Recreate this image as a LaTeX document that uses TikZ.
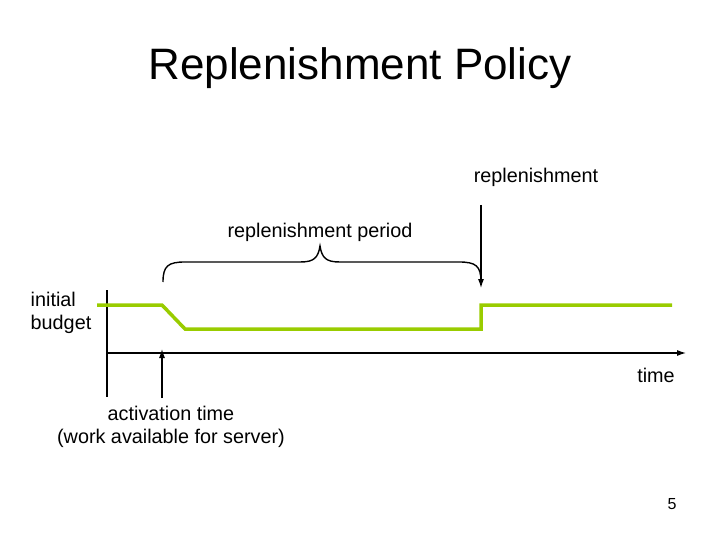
\documentclass[tikz,border=0pt]{standalone}
\usepackage{fontspec}
\setmainfont{Liberation Sans}
\definecolor{budget}{RGB}{153,204,0}
\usetikzlibrary{arrows.meta}
\begin{document}
\begin{tikzpicture}[x=1pt,y=-1pt,
  lbl/.style={font=\fontsize{19.8}{23}\selectfont,inner sep=0pt},
  arr/.style={-{Latex[length=9pt,width=6pt]},line width=1.1pt,black}]
\useasboundingbox (0,0) rectangle (720,540);
\node[inner sep=0pt,font=\fontsize{44}{50}\selectfont] (title) at (360,68) {Replenishment Policy};
\node[lbl] (rep) at (536,177) {replenishment};
\node[lbl] (per) at (320,232) {replenishment period};
\node[lbl,align=left] (ib) at (61,313) {initial\\budget};
\node[lbl] (time) at (656,375) {time};
\node[lbl,align=center] (act) at (171,427) {activation time\\(work available for server)};
\node[inner sep=0pt,font=\fontsize{16}{18}\selectfont] (pg) at (672,504) {5};
\coordinate (rt) at (481,205); \coordinate (rb) at (481,288);
\coordinate (at) at (162,349); \coordinate (ab) at (162,398);
\coordinate (o) at (107,353); \coordinate (xe) at (686,353);
\coordinate (yt) at (107,290); \coordinate (yb) at (107,397);
\draw[line width=1.1pt] (yt) -- (yb);
\draw[arr] (o) -- (xe);
\draw[arr] (rt) -- (rb);
\draw[arr] (ab) -- (at);
\draw[budget,line width=3.5pt] (97,305) -- (162,305) -- (185,329) -- (481,329) -- (481,305) -- (672,305);
\draw[line width=1.4pt] (163,282) .. controls (163,266) and (168,262) .. (185,262)
  -- (300,262) .. controls (314,262) and (318,258) .. (320,246)
  .. controls (322,258) and (326,262) .. (340,262)
  -- (459,262) .. controls (476,262) and (481,266) .. (481,282);
\end{tikzpicture}
\end{document}
